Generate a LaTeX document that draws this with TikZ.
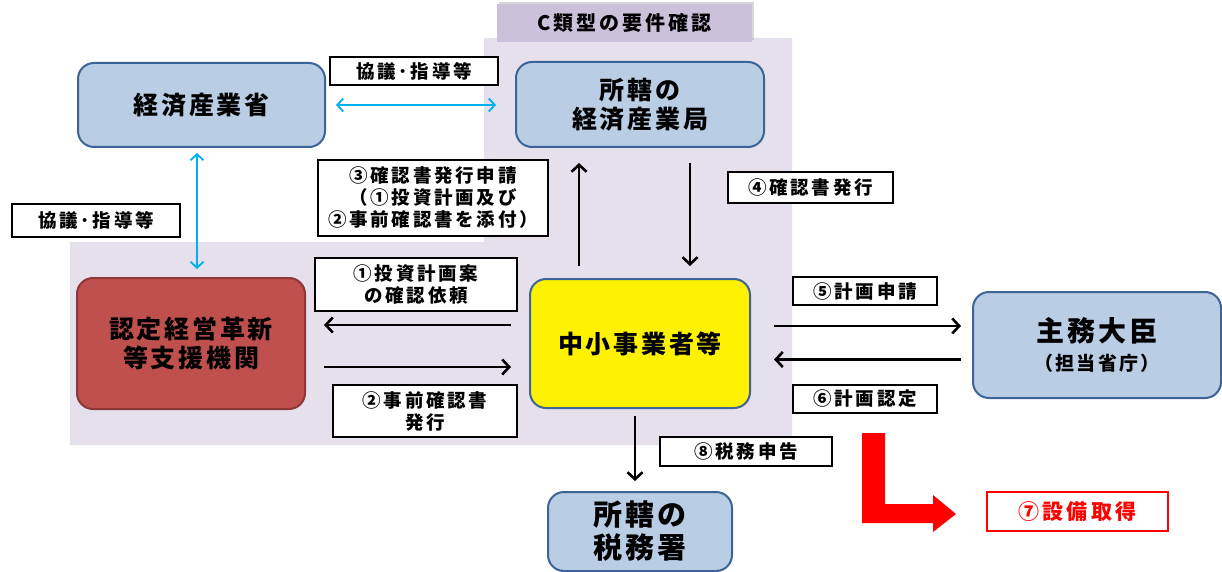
\documentclass[tikz,border=0pt]{standalone}
\usepackage{fontspec}
\setmainfont{Noto Sans CJK JP}
\newfontfamily\jpwide{Noto Sans CJK JP}[LetterSpace=15]
\newfontfamily\jpnode{Noto Sans CJK JP}[LetterSpace=11]
\usetikzlibrary{arrows.meta, shadows}

\definecolor{lavbg}{HTML}{E5E0EC}
\definecolor{lavtab}{HTML}{CCC1DA}
\definecolor{orgfill}{HTML}{B9CDE5}
\definecolor{orgline}{HTML}{3C6496}
\definecolor{supfill}{HTML}{C0504D}
\definecolor{supline}{HTML}{8C3836}
\definecolor{cyanarr}{HTML}{00B0F0}

\newcommand\orgfont{\jpnode\bfseries\fontsize{25}{29}\selectfont}
\newcommand\lblfont{\jpwide\bfseries\fontsize{18.5}{22}\selectfont}

\tikzset{
  org/.style={draw=orgline, line width=2pt, fill=orgfill, rounded corners=16pt, align=center, font=\orgfont, inner sep=0pt},
  lbl/.style={draw=black, line width=1.2pt, fill=white, align=center, font=\lblfont, inner sep=0pt},
  arr/.style={line width=2.6pt, -{Straight Barb[length=7pt,width=15pt]}},
  carr/.style={draw=cyanarr, line width=1.8pt, {Straight Barb[length=6pt,width=13pt]}-{Straight Barb[length=6pt,width=13pt]}},
}

\begin{document}
\begin{tikzpicture}[x=1pt,y=-1pt]
\clip (0,0) rectangle (1222,572);
\fill[white] (0,0) rectangle (1222,572);
\fill[lavbg] (484,38) -- (792,38) -- (792,445) -- (70,445) -- (70,242) -- (484,242) -- cycle;

\node[fill=lavtab, minimum width=255pt, minimum height=38pt, font=\jpwide\bfseries\fontsize{20}{24}\selectfont, drop shadow={shadow xshift=2pt, shadow yshift=2pt, opacity=.3}] (tab) at (624.5,23) {C類型の要件確認};

\node[org, minimum width=247pt, minimum height=84pt] (meti) at (201.5,105) {経済産業省};
\node[org, minimum width=248pt, minimum height=85pt] (bureau) at (640,104.5) {所轄の\\経済産業局};
\node[org, fill=supfill, draw=supline, minimum width=228pt, minimum height=131pt] (support) at (191,343.5) {認定経営革新\\等支援機関};
\node[org, fill=yellow, minimum width=220pt, minimum height=129pt] (sme) at (640,343.5) {中小事業者等};
\node[org, minimum width=248pt, minimum height=106pt] (minister) at (1097,345) {{\fontsize{28}{33}\selectfont 主務大臣}\\{\fontsize{19}{23}\selectfont （担当省庁）}};
\node[org, minimum width=184pt, minimum height=79pt, font=\jpnode\bfseries\fontsize{29}{33}\selectfont] (taxoff) at (640,531.5) {所轄の\\税務署};

\node[lbl, minimum width=168pt, minimum height=28pt] (lbltop) at (414,71) {協議･指導等};
\node[lbl, minimum width=168pt, minimum height=33pt] (lblleft) at (96,220.5) {協議･指導等};
\node[lbl, minimum width=230pt, minimum height=76pt] (lblreq) at (433,198) {③確認書発行申請\\（①投資計画及び\\②事前確認書を添付）};
\node[lbl, minimum width=165pt, minimum height=31pt] (lblissue) at (810.5,187.5) {④確認書発行};
\node[lbl, minimum width=202pt, minimum height=53pt] (lblask) at (416,284.5) {①投資計画案\\の確認依頼};
\node[lbl, minimum width=184pt, minimum height=52pt] (lblpre) at (425,411) {②事前確認書\\発行};
\node[lbl, minimum width=144pt, minimum height=28pt] (lblapply) at (865,291) {⑤計画申請};
\node[lbl, minimum width=144pt, minimum height=28pt] (lblcert) at (865,399) {⑥計画認定};
\node[lbl, minimum width=172pt, minimum height=29pt] (lbltax) at (746,451.5) {⑧税務申告};
\node[lbl, draw=red, text=red, minimum width=181pt, minimum height=39pt, font=\jpwide\bfseries\fontsize{21}{24}\selectfont] (lblequip) at (1077.5,511.5) {⑦設備取得};

\draw[carr, shorten <=10pt, shorten >=19pt] (meti.east) -- (meti.east -| bureau.west);
\draw[carr, shorten <=5pt, shorten >=8pt] ([xshift=-4.5pt]meti.south) -- ([xshift=-4.5pt]meti.south |- support.north);

\draw[arr, shorten <=12pt, shorten >=15pt] ([xshift=-61pt]sme.north) -- ([xshift=-61pt]sme.north |- bureau.south);
\draw[arr, shorten <=15pt, shorten >=12pt] ([xshift=50pt]bureau.south) -- ([xshift=50pt]bureau.south |- sme.north);
\draw[arr, shorten <=18pt, shorten >=18pt] ([yshift=18.5pt]sme.west) -- ([yshift=18.5pt]support.east);
\draw[arr, shorten <=18pt, shorten >=18pt] ([yshift=-23.5pt]support.east) -- ([yshift=-23.5pt]sme.west);
\draw[arr, shorten <=23pt, shorten >=11pt] ([yshift=17.5pt]sme.east) -- ([yshift=17.5pt]sme.east -| minister.west);
\draw[arr, shorten <=11pt, shorten >=23pt] ([yshift=-14.5pt]minister.west) -- ([yshift=-14.5pt]minister.west -| sme.east);
\draw[arr, shorten <=7pt, shorten >=10pt] ([xshift=-5pt]sme.south) -- ([xshift=-5pt]sme.south |- taxoff.north);

\fill[red] (862,433) -- (885,433) -- (885,504) -- (933,504) -- (933,495) -- (956,514) -- (933,532) -- (933,523) -- (862,523) -- cycle;
\end{tikzpicture}
\end{document}
